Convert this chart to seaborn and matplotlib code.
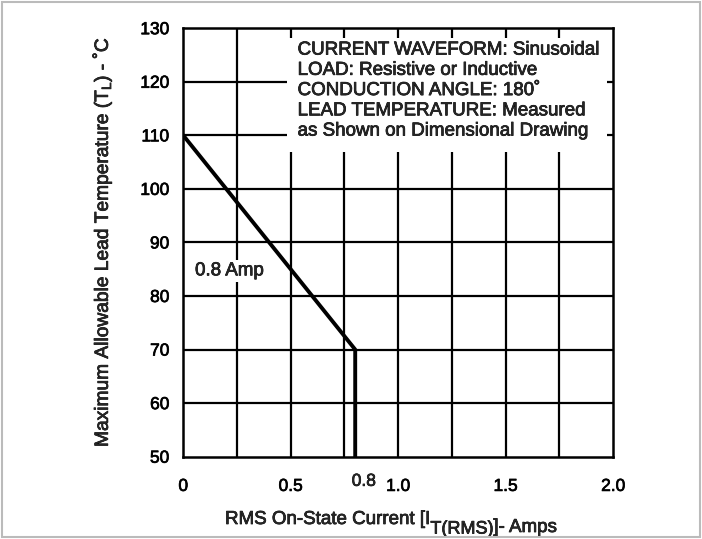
import matplotlib
matplotlib.use('Agg')
import matplotlib.pyplot as plt
import matplotlib.patheffects as pe
import seaborn as sns
import pandas as pd
from matplotlib.patches import Rectangle

# derating curve for 0.8 A device
current = [0, 0.8, 0.8]
lead_temp = [110, 70, 50]

x_ticks = [0, 0.5, 1.0, 1.5, 2.0]
x_tick_labels = ['0', '0.5', '1.0', '1.5', '2.0']
y_ticks = [50, 60, 70, 80, 90, 100, 110, 120, 130]

notes = ['CURRENT WAVEFORM: Sinusoidal',
         'LOAD: Resistive or Inductive',
         'CONDUCTION ANGLE: 180˚',
         'LEAD TEMPERATURE: Measured',
         'as Shown on Dimensional Drawing']

sns.set_style('white')
plt.rcParams['font.family'] = ['Liberation Sans', 'DejaVu Sans']
plt.rcParams['mathtext.fontset'] = 'custom'
plt.rcParams['mathtext.rm'] = 'Liberation Sans'

# slightly heavier text, like the scanned datasheet
heavy = [pe.withStroke(linewidth=0.5, foreground='black')]

fig = plt.figure(figsize=(7.02, 5.39), dpi=100)
fig.patches.append(Rectangle((0.003, 0.003), 0.994, 0.994, transform=fig.transFigure,
                             fill=False, edgecolor='#bbbbbb', linewidth=1.5))
ax = fig.add_axes([0.261, 0.1527, 0.6125, 0.795])

# grid
for gx in [0.25, 0.5, 0.75, 1.0, 1.25, 1.5, 1.75]:
    ax.axvline(gx, color='black', linewidth=1.6, zorder=1)
for gy in y_ticks[1:-1]:
    ax.axhline(gy, color='black', linewidth=1.6, zorder=1)

df = pd.DataFrame({'current': current, 'temp': lead_temp})
sns.lineplot(data=df, x='current', y='temp', sort=False, estimator=None,
             color='black', linewidth=2.8, ax=ax, zorder=4)

ax.set_xlim(0, 2.0)
ax.set_ylim(50, 130)
ax.set_xticks(x_ticks)
ax.set_xticklabels(x_tick_labels)
ax.set_yticks(y_ticks)
ax.tick_params(axis='both', length=0, labelsize=12.5, colors='black')
ax.tick_params(axis='x', pad=16)
ax.tick_params(axis='y', pad=10)
for lab in ax.get_xticklabels() + ax.get_yticklabels():
    lab.set_path_effects(heavy)
for s in ax.spines.values():
    s.set_color('black')
    s.set_linewidth(1.8)
    s.set_visible(True)

# notes box (white background hides grid)
ax.add_patch(Rectangle((0.482, 106.9), 1.49, 21.3, facecolor='white', edgecolor='none', zorder=2))
ax.text(0.532, 127.5, '\n'.join(notes), ha='left', va='top', fontsize=13.5,
        linespacing=1.25, zorder=3, path_effects=heavy)

ax.text(0.055, 84.7, '0.8 Amp', ha='left', va='center', fontsize=13.5, path_effects=heavy,
        bbox=dict(facecolor='white', edgecolor='none', pad=2), zorder=3)
ax.text(0.84, 45.4, '0.8', ha='center', va='center', fontsize=12.5, clip_on=False,
        path_effects=heavy)

# x label built from pieces so the subscript stays nearly full size
ax.set_xlabel('')
t1 = fig.text(225 / 702, 1 - 524 / 539, 'RMS On-State Current [I', ha='left', va='baseline',
              fontsize=13.5, path_effects=heavy)
t2 = ax.annotate('T(RMS)', xy=(1, 0), xycoords=t1, xytext=(0, -4), textcoords='offset points',
                 ha='left', va='baseline', fontsize=13, path_effects=heavy, annotation_clip=False)
ax.annotate(']- Amps', xy=(1, 0), xycoords=t2, xytext=(0, 4), textcoords='offset points',
            ha='left', va='baseline', fontsize=13.5, path_effects=heavy, annotation_clip=False)

ax.set_ylabel(r'Maximum Allowable Lead Temperature (T$_{\mathregular{L}}$) - ˚C', fontsize=13.8,
              labelpad=19, path_effects=heavy)

fig.savefig('out.png', dpi=100)
